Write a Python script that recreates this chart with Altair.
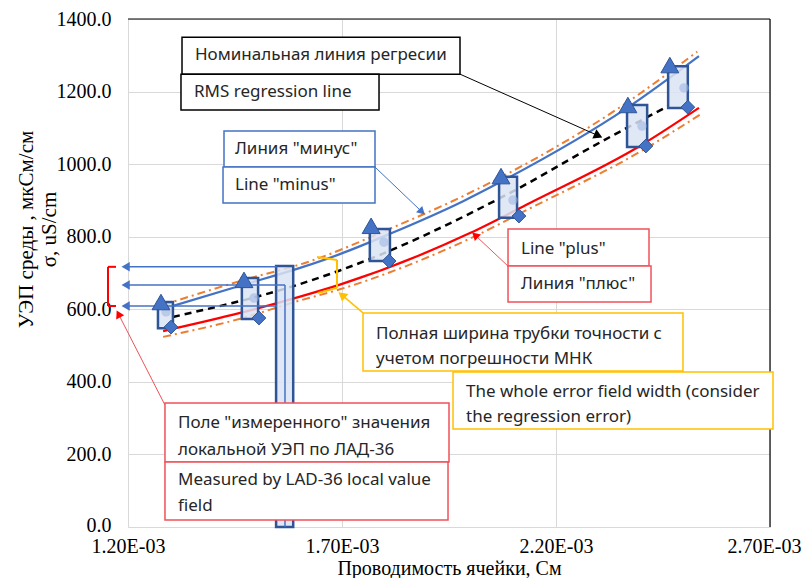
import altair as alt
import pandas as pd

# ---------------- axis ticks ----------------
x_ticks = [0.0012, 0.0017, 0.0022, 0.0027]
y_ticks = [0, 200, 400, 600, 800, 1000, 1200, 1400]

# ---------------- regression lines ----------------
minus_x = [1.282e-3, 1.462e-3, 1.602e-3, 1.695e-3, 1.812e-3, 1.983e-3, 2.069e-3, 2.366e-3, 2.534e-3]
minus_y = [601, 665, 714, 752, 808, 898, 950, 1155, 1298]
plus_x = [1.282e-3, 1.462e-3, 1.602e-3, 1.695e-3, 1.999e-3, 2.139e-3, 2.396e-3, 2.534e-3]
plus_y = [540, 590, 635, 668, 810, 893, 1050, 1155]
nominal_x = [1.305e-3, 1.595e-3, 1.695e-3, 2.093e-3, 2.303e-3, 2.462e-3]
nominal_y = [579, 667, 707, 921, 1060, 1160]
upper_x = [1.282e-3, 1.462e-3, 1.632e-3, 1.812e-3, 1.983e-3, 2.366e-3, 2.530e-3]
upper_y = [612, 678, 735, 822, 912, 1170, 1310]
lower_x = [1.282e-3, 1.462e-3, 1.595e-3, 1.695e-3, 1.999e-3, 2.139e-3, 2.396e-3, 2.536e-3]
lower_y = [524, 574, 622, 655, 795, 878, 1034, 1136]

# ---------------- measured groups ----------------
tri_x = [1.277e-3, 1.471e-3, 1.768e-3, 2.0715e-3, 2.368e-3, 2.466e-3]
tri_y = [620, 681, 830, 967, 1163, 1273]
dia_x = [1.3005e-3, 1.506e-3, 1.810e-3, 2.1135e-3, 2.410e-3, 2.508e-3]
dia_y = [551, 576, 733, 857, 1050, 1157]
box_x0 = [1.270e-3, 1.466e-3, 1.765e-3, 2.067e-3, 2.366e-3, 2.462e-3, 1.546e-3]
box_x1 = [1.305e-3, 1.504e-3, 1.812e-3, 2.109e-3, 2.413e-3, 2.508e-3, 1.586e-3]
box_top = [620, 686, 821, 965, 1163, 1270, 719]
box_bot = [548, 573, 733, 852, 1047, 1155, 0]
pt_x = [1.2888e-3, 1.4944e-3, 1.7981e-3, 2.0995e-3, 2.4009e-3, 2.4991e-3]
pt_y = [593, 631, 785, 901, 1105, 1210]

# ---------------- annotation text ----------------
ann_text = [
    "Номинальная линия регресии",
    "RMS regression line",
    'Линия "минус"',
    'Line "minus"',
    'Line "plus"',
    'Линия "плюс"',
    "Полная ширина трубки точности с",
    "учетом погрешности МНК",
    "The whole error field width (consider",
    "the regression error)",
    'Поле "измеренного" значения',
    "локальной УЭП по ЛАД-36",
    "Measured by LAD-36 local value",
    "field",
]
ann_x = [1.3565e-3, 1.3542e-3, 1.4500e-3, 1.4500e-3, 2.1182e-3, 2.1182e-3,
         1.7794e-3, 1.7794e-3, 1.9897e-3, 1.9897e-3, 1.3168e-3, 1.3168e-3,
         1.3168e-3, 1.3168e-3]
ann_y = [1301, 1199, 1042, 942, 766, 670, 532, 463, 372, 303, 287, 212, 130, 58]

# annotation frames: x0, x1, y0, y1 and group
frm_x0 = [1.3262e-3, 1.3238e-3, 1.4243e-3, 1.4220e-3, 2.0879e-3, 2.0879e-3, 1.7491e-3, 1.9594e-3, 1.2864e-3, 1.2864e-3]
frm_x1 = [1.9757e-3, 1.7865e-3, 1.7771e-3, 1.7771e-3, 2.4173e-3, 2.4220e-3, 2.4967e-3, 2.7070e-3, 1.9500e-3, 1.9477e-3]
frm_y0 = [1350, 1248, 1091, 992, 821, 719, 590, 427, 342, 179]
frm_y1 = [1248, 1149, 992, 893, 719, 620, 430, 270, 179, 19]
frm_g = ["k", "k", "b", "b", "r", "r", "y", "y", "r", "r"]

SERIF = "Liberation Serif"
SANS = "Noto Sans"
BLUE = "#4472c4"
DBLUE = "#2f5597"
RED = "#ff0000"
FRED = "#f0525a"
GOLD = "#ffc000"
ORANGE = "#ed7d31"

xscale = alt.Scale(domain=[0.0012, 0.0027], nice=False, zero=False)
yscale = alt.Scale(domain=[0, 1400], nice=False, zero=False)
xaxis = alt.Axis(values=x_ticks, labelExpr="format(datum.value*1000, '.2f') + 'E-03'",
                 grid=True, gridColor="#d9d9d9", domainColor="#d9d9d9", ticks=False,
                 labelPadding=9, labelFont=SERIF, labelFontSize=20, labelColor="#000000",
                 labelFlush=False, labelOverlap=False,
                 labelOffset={"condition": {"test": "datum.value > 0.00265", "value": -6},
                              "value": 0},
                 titleFont=SERIF, titleFontSize=20, titleFontWeight="normal", titleColor="#000000",
                 titleY=47, titleBaseline="alphabetic")
yaxis = alt.Axis(values=y_ticks, format=".1f", grid=True, gridColor="#d9d9d9",
                 domainColor="#d9d9d9", ticks=False, labelPadding=17, labelFont=SERIF,
                 labelFontSize=20, labelColor="#000000", labelFlush=False, labelOverlap=False,
                 labelOffset={"condition": {"test": "datum.value < 1", "value": -2},
                              "value": 0},
                 titleFont=SERIF, titleFontSize=21, titleFontWeight="normal", titleColor="#000000",
                 titleAngle=270, titleX=-92, titleY=210, titleAlign="center",
                 titleBaseline="bottom", titleLineHeight=23)
XT = "Проводимость ячейки, См"
YT = ["УЭП среды , мкСм/см", "σ, uS/cm"]


def X(f="x"):
    return alt.X(f + ":Q", scale=xscale, axis=xaxis, title=XT)


def Y(f="y"):
    return alt.Y(f + ":Q", scale=yscale, axis=yaxis, title=YT)


def line(xs, ys, **kw):
    df = pd.DataFrame({"x": xs, "y": ys})
    return alt.Chart(df).mark_line(interpolate="monotone", **kw).encode(x=X(), y=Y())


def segs(rows, **kw):
    df = pd.DataFrame(rows, columns=["x", "y", "x2", "y2"])
    return alt.Chart(df).mark_rule(**kw).encode(x=X(), y=Y(), x2="x2:Q", y2="y2:Q")


def heads(rows, color, size):
    df = pd.DataFrame(rows, columns=["x", "y", "a"])
    return alt.Chart(df).mark_point(shape="triangle", filled=True, opacity=1, color=color,
                                    size=size).encode(x=X(), y=Y(),
                                                      angle=alt.Angle("a:Q", scale=None))


layers = []

# plot border (top, right)
layers.append(segs([[0.0012, 1400, 0.0027, 1400], [0.0027, 0, 0.0027, 1400]],
                   color="#000000", strokeWidth=1.2))

# lines
layers.append(line(upper_x, upper_y, color=ORANGE, strokeWidth=2, strokeDash=[8, 4, 2, 4]))
layers.append(line(lower_x, lower_y, color=ORANGE, strokeWidth=2, strokeDash=[8, 4, 2, 4]))
layers.append(line(nominal_x, nominal_y, color="#000000", strokeWidth=2.5, strokeDash=[7, 5]))
layers.append(line(minus_x, minus_y, color=BLUE, strokeWidth=2.2))
layers.append(line(plus_x, plus_y, color=RED, strokeWidth=2.2))

# measured field boxes
bdf = pd.DataFrame({"x": box_x0, "x2": box_x1, "y": box_top, "y2": box_bot})
layers.append(alt.Chart(bdf).mark_rect(fill="#dae3f3", fillOpacity=0.85, stroke=DBLUE,
                                      strokeWidth=2.5).encode(x=X(), x2="x2:Q", y=Y(), y2="y2:Q"))
pdf = pd.DataFrame({"x": pt_x, "y": pt_y})
layers.append(alt.Chart(pdf).mark_point(shape="circle", filled=True, color="#9fb8e2",
                                       opacity=0.6, size=90).encode(x=X(), y=Y()))

# connectors from the tall box to the y axis
layers.append(segs([[1.1977e-3, 717, 1.5481e-3, 717], [1.1977e-3, 667, 1.5668e-3, 667],
                    [1.1977e-3, 609, 1.5481e-3, 609], [1.5668e-3, 667, 1.5668e-3, 0]],
                   color=BLUE, strokeWidth=1.5))
layers.append(heads([[1.1977e-3, 717, 270], [1.1977e-3, 667, 270], [1.1977e-3, 609, 270]],
                    BLUE, 90))
# red bracket
layers.append(segs([[1.1533e-3, 717, 1.1533e-3, 609], [1.1533e-3, 717, 1.1720e-3, 717],
                    [1.1533e-3, 609, 1.1720e-3, 609]], color=RED, strokeWidth=2))
# yellow bracket
layers.append(segs([[1.6416e-3, 744, 1.6883e-3, 736], [1.6883e-3, 736, 1.6883e-3, 659],
                    [1.6883e-3, 659, 1.6439e-3, 645]], color=GOLD, strokeWidth=2))

# markers
tdf = pd.DataFrame({"x": tri_x, "y": tri_y})
layers.append(alt.Chart(tdf).mark_point(shape="triangle-up", filled=True, fill=BLUE,
                                       stroke=DBLUE, strokeWidth=1, opacity=1,
                                       size=320).encode(x=X(), y=Y()))
ddf = pd.DataFrame({"x": dia_x, "y": dia_y})
layers.append(alt.Chart(ddf).mark_point(shape="diamond", filled=True, fill=BLUE,
                                       stroke=DBLUE, strokeWidth=1, opacity=1,
                                       size=190).encode(x=X(), y=Y()))

# callout arrows
layers.append(segs([[1.9757e-3, 1248, 2.2958e-3, 1080]], color="#000000", strokeWidth=1))
layers.append(heads([[2.2958e-3, 1080, 114]], "#000000", 100))
layers.append(segs([[1.7771e-3, 992, 1.8846e-3, 871]], color=BLUE, strokeWidth=1))
layers.append(heads([[1.8846e-3, 871, 134]], BLUE, 80))
layers.append(segs([[2.0879e-3, 719, 2.0131e-3, 802], [1.2864e-3, 336, 1.1790e-3, 584]],
                   color=FRED, strokeWidth=1))
layers.append(heads([[2.0131e-3, 802, 313], [1.1790e-3, 584, 333]], RED, 80))
layers.append(segs([[1.7491e-3, 590, 1.7023e-3, 637]], color=GOLD, strokeWidth=1.5))
layers.append(heads([[1.7023e-3, 637, 310]], GOLD, 100))

# annotation frames
fdf = pd.DataFrame({"x": frm_x0, "x2": frm_x1, "y": frm_y0, "y2": frm_y1, "g": frm_g})
layers.append(alt.Chart(fdf).mark_rect(fill="#ffffff", strokeWidth=1.5).encode(
    x=X(), x2="x2:Q", y=Y(), y2="y2:Q",
    stroke=alt.Stroke("g:N", scale=alt.Scale(domain=["k", "b", "r", "y"],
                                             range=["#000000", BLUE, FRED, GOLD]),
                      legend=None)))
adf = pd.DataFrame({"x": ann_x, "y": ann_y, "t": ann_text})
layers.append(alt.Chart(adf).mark_text(align="left", baseline="middle", font=SANS,
                                      fontSize=17, color="#262626").encode(
    x=X(), y=Y(), text="t:N"))

chart = alt.layer(*layers).properties(
    width=642, height=508,
    autosize=alt.AutoSizeParams(type="none"),
    padding={"left": 120, "top": 11, "right": 33, "bottom": 51},
    background="#ffffff",
).configure_view(stroke=None)

chart.save("out.html", embed_options={"renderer": "svg", "actions": False})
